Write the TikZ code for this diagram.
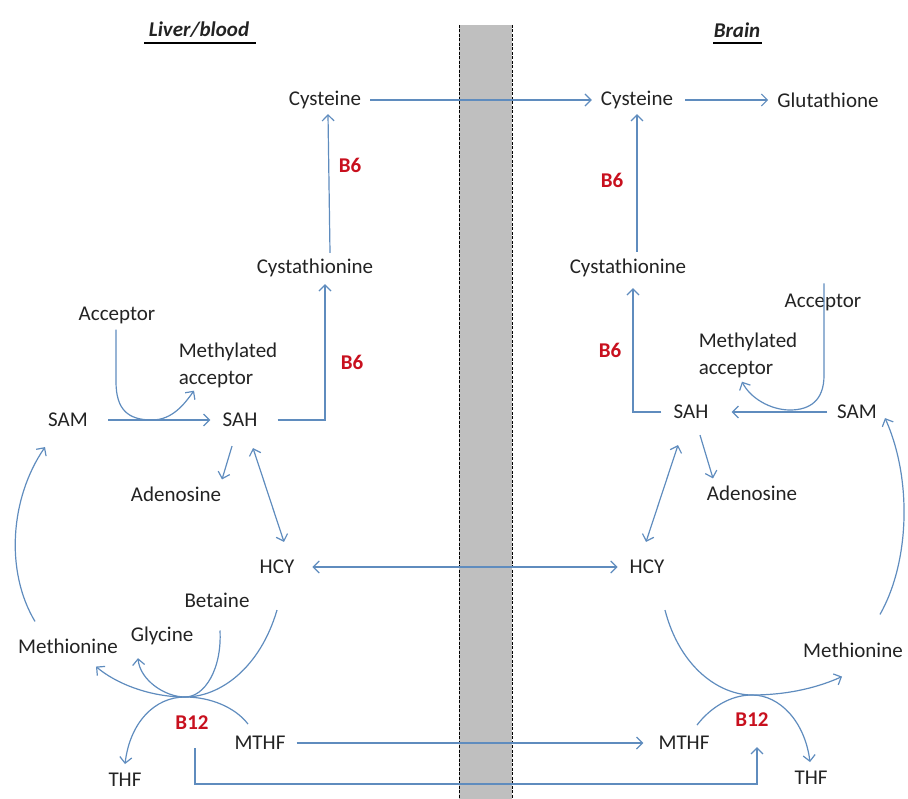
\documentclass[tikz,border=0pt]{standalone}
\usepackage{fontspec}
\setmainfont{Carlito}
\usetikzlibrary{arrows.meta, positioning, calc}

\definecolor{pathblue}{RGB}{95,140,190}
\definecolor{vitred}{RGB}{200,16,30}
\definecolor{bbbgray}{RGB}{191,191,191}
\definecolor{labelgray}{RGB}{35,35,35}

\begin{document}
\begin{tikzpicture}[
        x=1pt, y=-1pt,
        >={Straight Barb[length=6pt,width=12pt]},
        every node/.style={font=\fontsize{21}{27}\selectfont, text=labelgray, inner sep=2pt},
        flowarrow/.style={->, draw=pathblue, line width=1.2pt},
        twoway/.style={<->, draw=pathblue, line width=1.2pt},
        vitamin/.style={text=vitred, font=\fontsize{21}{27}\selectfont\bfseries},
        organ/.style={font=\fontsize{21}{27}\selectfont\bfseries\itshape},
        rule/.style={draw=black, line width=2.2pt}
    ]
    \useasboundingbox (0,0) rectangle (908,799);

    % barrier
    \fill[bbbgray] (459,25) rectangle (512,799);
    \draw[dash pattern=on 3pt off 1.5pt, line width=1pt] (459,25) -- (459,799) (512,25) -- (512,799);

    \node[organ] (liver) at (199,30) {Liver/blood};
    \node[organ] (brain) at (737,30) {Brain};
    \path[rule] (144,43) -- (256,43);
    \path[rule] (713,43) -- (762,43);

    % liver / blood side
    \node (cysL) at (325,100) {Cysteine};
    \node[vitamin] (b6aL) at (350,165) {B6};
    \node (cystaL) at (315,268) {Cystathionine};
    \node (accL) at (117,315) {Acceptor};
    \node[align=left] (methL) at (228,365) {Methylated\\acceptor};
    \node[vitamin] (b6bL) at (352,362) {B6};
    \node (samL) at (68,420) {SAM};
    \node (sahL) at (240,420) {SAH};
    \node (adoL) at (176,494) {Adenosine};
    \node (hcyL) at (277,567) {HCY};
    \node (betL) at (217,600) {Betaine};
    \node (glyL) at (162,636) {Glycine};
    \node (metL) at (68,646) {Methionine};
    \node[vitamin] (b12L) at (192,723) {B12};
    \node (mthfL) at (260,743) {MTHF};
    \node (thfL) at (125,780) {THF};
    \coordinate (dipL) at (152,420);
    \coordinate (mixL) at (185,697);

    % brain side
    \node (cysR) at (637,100) {Cysteine};
    \node (gshR) at (828,100) {Glutathione};
    \node[vitamin] (b6aR) at (612,180) {B6};
    \node (cystaR) at (628,268) {Cystathionine};
    \node (accR) at (823,302) {Acceptor};
    \node[align=left] (methR) at (748,355) {Methylated\\acceptor};
    \node[vitamin] (b6bR) at (610,350) {B6};
    \node (sahR) at (691,412) {SAH};
    \node (samR) at (857,412) {SAM};
    \node (adoR) at (752,493) {Adenosine};
    \node (hcyR) at (647,567) {HCY};
    \node (metR) at (853,650) {Methionine};
    \node[vitamin] (b12R) at (752,720) {B12};
    \node (mthfR) at (684,743) {MTHF};
    \node (thfR) at (811,778) {THF};
    \coordinate (dipR) at (790,410);
    \coordinate (mixR) at (752,695);

    % connectors, left
    \draw[flowarrow, shorten <=7pt, shorten >=7pt] (cysL) -- (cysR);
    \draw[flowarrow] ($(cystaL.north)+(15,-4)$) -- ($(cysL.south)+(3,3)$);
    \draw[flowarrow] ($(sahL.east)+(18,0)$) -| ($(cystaL.south)+(10,5)$);
    \draw[flowarrow, shorten <=18pt, shorten >=10pt] (samL) -- (sahL);
    \draw[flowarrow] ($(accL.south)+(-1,4)$) -- ++(0,52) .. controls +(0,28) and +(-24,0) .. (dipL)
        .. controls +(20,0) and +(-10,14) .. ($(methL.south)+(-34,1)$);
    \draw[flowarrow] ($(sahL.south)+(-8,17)$) -- ($(adoL.north)+(46,-5)$);
    \draw[twoway] ($(sahL.south)+(13,19)$) -- ($(hcyL.north)+(7,-16)$);
    \draw[twoway, shorten <=16pt, shorten >=10pt] (hcyL) -- (hcyR);
    \draw[flowarrow] ($(metL.north)+(-33,-15)$) .. controls +(-30,-50) and +(-35,51) .. ($(samL.south)+(-23,18)$);
    \draw[flowarrow] ($(hcyL.south)+(0,34)$) .. controls +(-17,58) and +(35,0) .. (mixL)
        .. controls +(-35,0) and +(20,17) .. ($(metL.south east)+(-24,11)$);
    \draw[flowarrow] ($(betL.south)+(3,21)$) .. controls +(2,38) and +(20,0) .. (mixL)
        .. controls +(-20,0) and +(2,22) .. ($(glyL.south)+(-24,11)$);
    \draw[flowarrow] ($(mthfL.north)+(-12,-10)$) .. controls +(-13,-17) and +(25,0) .. (mixL)
        .. controls +(-30,0) and +(5,-42) .. ($(thfL.north)+(0,-7)$);
    \draw[flowarrow] ($(b12L.south)+(3,16)$) -- ++(0,36) -| ($(b12R.south)+(5,18)$);
    \draw[flowarrow, shorten <=9pt, shorten >=13pt] (mthfL) -- (mthfR);

    % connectors, right
    \draw[flowarrow, shorten <=10pt, shorten >=7pt] (cysR) -- (gshR);
    \draw[flowarrow] ($(cystaR.north)+(9,-5)$) -- ($(cysR.south)+(0,3)$);
    \draw[flowarrow] ($(sahR.west)+(-10,0)$) -| ($(cystaR.south)+(5,9)$);
    \draw[flowarrow, shorten <=8pt, shorten >=21pt] (samR) -- (sahR);
    \draw[flowarrow] ($(accR.north)+(1,-8)$) -- ++(0,92) .. controls +(0,25) and +(20,0) .. (dipR)
        .. controls +(-20,0) and +(8,16) .. ($(methR.south)+(-6,2)$);
    \draw[flowarrow] ($(sahR.south)+(9,14)$) -- ($(adoR.north)+(-39,-5)$);
    \draw[twoway] ($(hcyR.north)+(-1,-16)$) -- ($(sahR.south)+(-13,24)$);
    \draw[flowarrow] ($(metR.north)+(27,-26)$) .. controls +(30,-53) and +(27,60) .. ($(samR.south)+(28,-3)$);
    \draw[flowarrow] ($(hcyR.south)+(18,34)$) .. controls +(15,58) and +(-32,0) .. (mixR)
        .. controls +(38,0) and +(-22,10) .. ($(metR.south)+(-11,17)$);
    \draw[flowarrow] ($(mthfR.north)+(13,-9)$) .. controls +(13,-17) and +(-22,0) .. (mixR)
        .. controls +(28,0) and +(-5,-40) .. ($(thfR.north)+(-1,-7)$);
\end{tikzpicture}
\end{document}
